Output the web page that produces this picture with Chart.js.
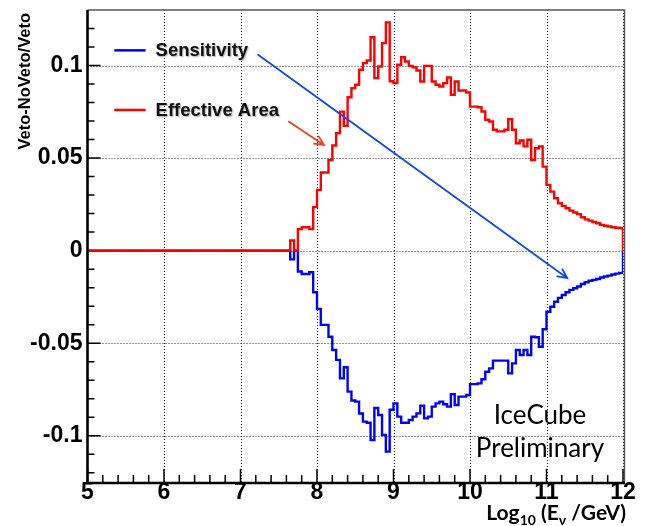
<!DOCTYPE html>
<html>

<head>
  <title>Veto - NoVeto</title>
  <script src="https://cdn.jsdelivr.net/npm/chart.js"></script>
  <style>
    body { margin: 0; background: #fff; }
  </style>
</head>

<body>
  <canvas id="vetoChart" width="646" height="526"></canvas>
  <script>
    // axis ranges and labelled ticks
    const xRange = [5, 12];
    const yRange = [-0.125, 0.13];
    const xTicks = [5, 6, 7, 8, 9, 10, 11, 12];
    const yTicks = [-0.1, -0.05, 0, 0.05, 0.1];
    const xMinorStep = 0.2;
    const yMinorStep = 0.01;

    // histograms: 0.05 wide bins in log10(E/GeV), first listed bin starts at 7.6
    // (everything below 7.6 is zero)
    const binStart = 7.6;
    const binWidth = 0.05;

    const effectiveArea = [
      0, 0.0055, 0, 0.0116, 0.0126, 0.0126, 0.0116, 0.0235,
      0.0328, 0.0422, 0.0422, 0.049, 0.0568, 0.0635, 0.0751, 0.0674, 0.0829, 0.0878,
      0.0896, 0.0977, 0.1013, 0.1027, 0.1153, 0.0932, 0.0995, 0.1121, 0.1233, 0.0915,
      0.0905, 0.1004, 0.1045, 0.1022, 0.0998, 0.0991, 0.0973, 0.0914, 0.0998, 0.0998,
      0.0914, 0.0896, 0.0887, 0.0905, 0.0935, 0.0842, 0.0914, 0.0865, 0.0865, 0.0854,
      0.0778, 0.0778, 0.0775, 0.0752, 0.0707, 0.0698, 0.0653, 0.0644, 0.0644, 0.0653,
      0.071, 0.0653, 0.058, 0.0595, 0.0563, 0.0599, 0.049, 0.0553, 0.0563, 0.0454,
      0.0355, 0.0319, 0.0283, 0.0256, 0.0242, 0.0229, 0.0216, 0.0206, 0.0197, 0.018,
      0.0169, 0.0162, 0.0155, 0.0148, 0.0139, 0.0134, 0.013, 0.0126, 0.0124, 0.0122
    ];

    const sensitivity = [
      0, -0.0047, 0, -0.0113, -0.0126, -0.0126, -0.0117, -0.0225,
      -0.0315, -0.0401, -0.0401, -0.0465, -0.0537, -0.059, -0.069, -0.063, -0.0762, -0.081,
      -0.0816, -0.088, -0.0924, -0.093, -0.1023, -0.085, -0.0888, -0.0996, -0.1086, -0.086,
      -0.0825, -0.0897, -0.093, -0.093, -0.0915, -0.0897, -0.0879, -0.0838, -0.0906, -0.0897,
      -0.0843, -0.0825, -0.0816, -0.083, -0.0843, -0.0775, -0.0834, -0.0789, -0.0789, -0.078,
      -0.0721, -0.0721, -0.0717, -0.0695, -0.0654, -0.0636, -0.0594, -0.0594, -0.0594, -0.0594,
      -0.0663, -0.0609, -0.0537, -0.0564, -0.0537, -0.0564, -0.0465, -0.0468, -0.0519, -0.0425,
      -0.033, -0.0303, -0.0276, -0.0255, -0.024, -0.0225, -0.0212, -0.0203, -0.0194, -0.018,
      -0.0171, -0.0163, -0.0158, -0.0153, -0.0145, -0.014, -0.0135, -0.0129, -0.0124, -0.012
    ];

    // turn bin contents into step points: zero from the axis start, closed to zero at the end
    function histPoints(values) {
      const pts = [{ x: xRange[0], y: 0 }];
      values.forEach((v, i) => pts.push({ x: +(binStart + i * binWidth).toFixed(2), y: v }));
      pts.push({ x: xRange[1], y: 0 });
      return pts;
    }

    function arrow(ctx, x0, y0, x1, y1, color, width) {
      const a = Math.atan2(y1 - y0, x1 - x0);
      const head = 10, spread = 0.45;
      ctx.save();
      ctx.strokeStyle = color;
      ctx.lineWidth = width;
      ctx.lineCap = 'round';
      ctx.beginPath();
      ctx.moveTo(x0, y0);
      ctx.lineTo(x1, y1);
      ctx.moveTo(x1 - head * Math.cos(a - spread), y1 - head * Math.sin(a - spread));
      ctx.lineTo(x1, y1);
      ctx.lineTo(x1 - head * Math.cos(a + spread), y1 - head * Math.sin(a + spread));
      ctx.stroke();
      ctx.restore();
    }

    // dotted grid and inward ticks, under the histograms
    const gridPlugin = {
      id: 'rootGrid',
      beforeDatasetsDraw(chart) {
        const { ctx, chartArea: ca, scales: { x, y } } = chart;
        ctx.save();
        ctx.strokeStyle = '#222';
        ctx.lineWidth = 1;
        ctx.setLineDash([1, 2]);
        xTicks.forEach(v => {
          if (v === xRange[0]) return;
          const px = Math.round(x.getPixelForValue(v)) + 0.5;
          ctx.beginPath(); ctx.moveTo(px, ca.top); ctx.lineTo(px, ca.bottom); ctx.stroke();
        });
        yTicks.forEach(v => {
          const py = Math.round(y.getPixelForValue(v)) + 0.5;
          ctx.beginPath(); ctx.moveTo(ca.left, py); ctx.lineTo(ca.right, py); ctx.stroke();
        });
        ctx.setLineDash([]);

        ctx.strokeStyle = '#000';
        ctx.lineWidth = 1.5;
        ctx.beginPath();
        for (let v = -0.12; v <= 0.1201; v += yMinorStep) {
          const py = y.getPixelForValue(v);
          const major = yTicks.some(t => Math.abs(t - v) < 1e-6);
          ctx.moveTo(ca.left, py); ctx.lineTo(ca.left + (major ? 13 : 7), py);
        }
        for (let v = xRange[0]; v <= xRange[1] + 1e-6; v += xMinorStep) {
          const px = x.getPixelForValue(v);
          const major = xTicks.some(t => Math.abs(t - v) < 1e-6);
          ctx.moveTo(px, ca.bottom); ctx.lineTo(px, ca.bottom - (major ? 13 : 7));
        }
        ctx.stroke();
        ctx.restore();
      }
    };

    // frame, titles and the slide annotations
    const framePlugin = {
      id: 'rootFrame',
      afterDraw(chart) {
        const { ctx, chartArea: ca, scales: { x, y } } = chart;
        ctx.save();

        // top and right border
        ctx.strokeStyle = '#555';
        ctx.lineWidth = 1.5;
        ctx.beginPath();
        ctx.moveTo(ca.left, ca.top); ctx.lineTo(ca.right + 1.5, ca.top); ctx.lineTo(ca.right + 1.5, ca.bottom);
        ctx.stroke();

        // left and bottom axis lines
        ctx.strokeStyle = '#000';
        ctx.lineWidth = 2.6;
        ctx.beginPath();
        ctx.moveTo(ca.left, ca.top); ctx.lineTo(ca.left, ca.bottom + 1); ctx.lineTo(ca.right + 2, ca.bottom + 1);
        ctx.stroke();

        // y title, ROOT style: right-aligned to the top
        ctx.fillStyle = '#000';
        ctx.font = 'bold 16.5px "Liberation Sans", Arial, sans-serif';
        ctx.translate(25, ca.top + 3);
        ctx.rotate(-Math.PI / 2);
        ctx.textAlign = 'right';
        ctx.textBaseline = 'middle';
        ctx.fillText('Veto-NoVeto/Veto', 0, 0);
        ctx.restore();

        // x title with subscripts
        ctx.save();
        ctx.fillStyle = '#000';
        ctx.textBaseline = 'alphabetic';
        const big = 'bold 21px Lato, "Open Sans", sans-serif';
        const small = 'bold 14px Lato, "Open Sans", sans-serif';
        const parts = [['Log', big, 0], ['10', small, 5], [' (E', big, 0], ['\u03bd', small, 5], [' /GeV)', big, 0]];
        let total = 0;
        parts.forEach(p => { ctx.font = p[1]; total += ctx.measureText(p[0]).width; });
        let tx = 626 - total;
        parts.forEach(p => {
          ctx.font = p[1];
          ctx.fillText(p[0], tx, 520 + p[2]);
          tx += ctx.measureText(p[0]).width;
        });
        ctx.restore();

        // legend entries drawn as on the slide
        ctx.save();
        const legend = [[0.1082, 'rgb(0,0,255)', 'Sensitivity'], [0.076, 'rgb(255,0,0)', 'Effective Area']];
        legend.forEach(([yv, color, label]) => {
          const py = y.getPixelForValue(yv);
          ctx.strokeStyle = color;
          ctx.lineWidth = 2.5;
          ctx.beginPath();
          ctx.moveTo(x.getPixelForValue(5.35), py); ctx.lineTo(x.getPixelForValue(5.76), py);
          ctx.stroke();
          ctx.save();
          ctx.shadowColor = 'rgba(0,0,0,0.35)';
          ctx.shadowOffsetX = 1; ctx.shadowOffsetY = 1; ctx.shadowBlur = 1.5;
          ctx.fillStyle = '#111';
          ctx.font = 'bold 18.5px "Liberation Sans", Arial, sans-serif';
          ctx.textBaseline = 'middle';
          ctx.fillText(label, x.getPixelForValue(5.89), py + 1);
          ctx.restore();
        });

        // arrows
        arrow(ctx, x.getPixelForValue(7.23), y.getPixelForValue(0.1058),
          x.getPixelForValue(11.27), y.getPixelForValue(-0.0148), 'rgb(20,70,240)', 1.8);
        arrow(ctx, x.getPixelForValue(7.63), y.getPixelForValue(0.0697),
          x.getPixelForValue(8.09), y.getPixelForValue(0.0571), 'rgb(240,64,32)', 1.8);

        // preliminary label
        ctx.fillStyle = '#000';
        ctx.font = '26px Lato, "Open Sans", sans-serif';
        ctx.textAlign = 'center';
        ctx.textBaseline = 'alphabetic';
        ctx.fillText('IceCube', 540, 424);
        ctx.fillText('Preliminary', 540, 457);
        ctx.restore();
      }
    };

    const tickFont = { family: '"Liberation Sans", Arial', weight: 'bold', size: 23 };

    const ctx = document.getElementById('vetoChart').getContext('2d');
    const chart = new Chart(ctx, {
      type: 'line',
      data: {
        datasets: [{
          label: 'Effective Area',
          data: histPoints(effectiveArea),
          borderColor: 'rgb(255, 0, 0)',
          borderWidth: 2.4,
          stepped: true,
          pointRadius: 0,
          fill: false
        }, {
          label: 'Sensitivity',
          data: histPoints(sensitivity),
          borderColor: 'rgb(0, 0, 255)',
          borderWidth: 2.4,
          stepped: true,
          pointRadius: 0,
          fill: false
        }]
      },
      options: {
        responsive: false,
        animation: false,
        layout: { padding: { top: 10, right: 23, left: 0, bottom: 0 } },
        plugins: { legend: { display: false }, tooltip: { enabled: false } },
        scales: {
          x: {
            type: 'linear',
            min: xRange[0],
            max: xRange[1],
            afterBuildTicks: s => { s.ticks = xTicks.map(v => ({ value: v })); },
            afterFit: s => { s.height = 44; s.paddingLeft = 0; s.paddingRight = 0; },
            grid: { display: false, drawTicks: false },
            border: { display: false },
            ticks: {
              font: tickFont,
              color: '#000',
              padding: -3,
              maxRotation: 0,
              autoSkip: false,
              callback: v => String(v)
            }
          },
          y: {
            min: yRange[0],
            max: yRange[1],
            afterBuildTicks: s => { s.ticks = yTicks.map(v => ({ value: v })); },
            afterFit: s => { s.width = 87.5; s.paddingTop = 0; s.paddingBottom = 0; },
            grid: { display: false, drawTicks: false },
            border: { display: false },
            ticks: {
              font: tickFont,
              color: '#000',
              padding: 5,
              autoSkip: false,
              callback: v => String(+v.toFixed(2))
            }
          }
        }
      },
      plugins: [gridPlugin, framePlugin]
    });
  </script>
</body>

</html>
